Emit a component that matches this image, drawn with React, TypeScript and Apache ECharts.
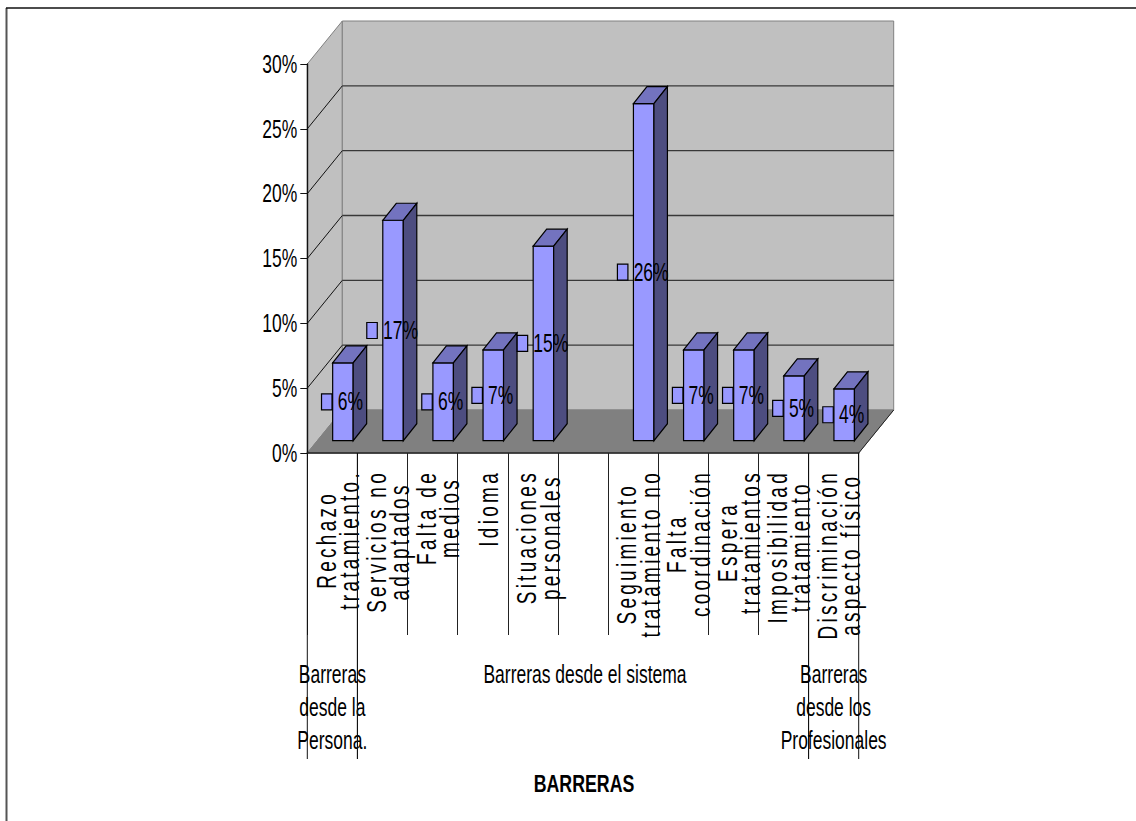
import React, { useEffect, useRef } from "react";
import * as echarts from "echarts";

// Barriers to treatment, share of responses per barrier
const categories = [
  "Rechazo\ntratamiento.",
  "Servicios no\nadaptados",
  "Falta de\nmedios",
  "Idioma",
  "Situaciones\npersonales",
  "",
  "Seguimiento\ntratamiento no",
  "Falta\ncoordinación",
  "Espera\ntratamientos",
  "Imposibilidad\ntratamiento",
  "Discriminación\naspecto físico",
];
const shares: (number | null)[] = [0.06, 0.17, 0.06, 0.07, 0.15, null, 0.26, 0.07, 0.07, 0.05, 0.04];
const shareLabels = ["6%", "17%", "6%", "7%", "15%", "", "26%", "7%", "7%", "5%", "4%"];
const yTicks = [0, 0.05, 0.1, 0.15, 0.2, 0.25, 0.3];
const yTickLabels = ["0%", "5%", "10%", "15%", "20%", "25%", "30%"];
const groupNames = ["Barreras\ndesde la\nPersona.", "Barreras desde el sistema", "Barreras\ndesde los\nProfesionales"];
const groupFirstSlot = [0, 1, 10];
const groupLastSlot = [0, 9, 10];
const axisTitle = "BARRERAS";

// Oblique projection of the chart box
const WALL_DX = 35;
const WALL_DY = -43;
const BAR_DX = 13.5;
const BAR_DY = -17;
const BAR_WIDTH = 20.5;
const BAR_SHIFT_X = 0.3;
const BAR_SHIFT_Y = -12.3;

const FONT_FAMILY = "Liberation Sans";
const SQUEEZE = 0.7;
const VALUE_FONT = `25px ${FONT_FAMILY}`;
const CATEGORY_SIZE = 28;
const CATEGORY_SQUEEZE = 0.68;
const CATEGORY_TRACKING = 4.8;
const CATEGORY_TOP = 17;
const CATEGORY_LINE = 23.5;

const measureCtx = document.createElement("canvas").getContext("2d")!;
function textWidth(text: string, font: string): number {
  measureCtx.font = font;
  return measureCtx.measureText(text).width;
}
function categoryLength(label: string): number {
  const font = `${CATEGORY_SIZE}px ${FONT_FAMILY}`;
  const longest = Math.max(0, ...label.split("\n").map((line) => textWidth(line, font) + line.length * CATEGORY_TRACKING));
  return longest * CATEGORY_SQUEEZE;
}

function poly(points: number[][], fill: string, stroke: string, lineWidth = 1) {
  return { type: "polygon", shape: { points }, style: { fill, stroke, lineWidth } };
}
function seg(x1: number, y1: number, x2: number, y2: number, stroke: string, lineWidth = 1) {
  return { type: "line", shape: { x1, y1, x2, y2 }, style: { stroke, lineWidth } };
}

export default function App() {
  const ref = useRef<HTMLDivElement>(null);

  useEffect(() => {
    document.body.style.margin = "0";
    const chart = echarts.init(ref.current!, undefined, { renderer: "svg" });

    const slotData = categories.map((_, i) => [i, shares[i]]);

    const renderBox = (params: any, api: any) => {
      const { x, y, width, height } = params.coordSys;
      const bottom = y + height;
      const children: any[] = [
        poly([[x, y], [x + WALL_DX, y + WALL_DY], [x + WALL_DX, bottom + WALL_DY], [x, bottom]], "#C0C0C0", "#808080"),
        poly(
          [[x + WALL_DX, y + WALL_DY], [x + width + WALL_DX, y + WALL_DY], [x + width + WALL_DX, bottom + WALL_DY], [x + WALL_DX, bottom + WALL_DY]],
          "#C0C0C0",
          "#808080"
        ),
        poly(
          [[x, bottom], [x + WALL_DX, bottom + WALL_DY], [x + width + WALL_DX, bottom + WALL_DY], [x + width, bottom]],
          "#808080",
          "#808080"
        ),
        seg(x + width, bottom, x + width + WALL_DX, bottom + WALL_DY, "#222"),
      ];
      yTicks.forEach((t, k) => {
        const py = api.coord([0, t])[1];
        if (k > 0 && k < yTicks.length - 1) {
          children.push(seg(x, py, x + WALL_DX, py + WALL_DY, "#111"));
          children.push(seg(x + WALL_DX, py + WALL_DY, x + width + WALL_DX, py + WALL_DY, "#383838", 1.3));
        }
        children.push({
          type: "text",
          x: x - 10,
          y: py,
          scaleX: SQUEEZE,
          style: { text: yTickLabels[k], font: VALUE_FONT, fill: "#000", align: "right", verticalAlign: "middle" },
        });
      });
      return { type: "group", children };
    };

    const renderBar = (_: any, api: any) => {
      const value = api.value(1);
      if (value == null || Number.isNaN(value)) return null;
      const slot = api.value(0);
      const [cx, topY] = api.coord([slot, value]);
      const [, baseY] = api.coord([slot, 0]);
      const left = cx + BAR_SHIFT_X;
      const right = left + BAR_WIDTH;
      const top = topY + BAR_SHIFT_Y;
      const base = baseY + BAR_SHIFT_Y;
      return {
        type: "group",
        children: [
          poly([[left, top], [right, top], [right, base], [left, base]], "#9999FF", "#000", 1.2),
          poly([[left, top], [left + BAR_DX, top + BAR_DY], [right + BAR_DX, top + BAR_DY], [right, top]], "#7373BF", "#000", 1.2),
          poly([[right, top], [right + BAR_DX, top + BAR_DY], [right + BAR_DX, base + BAR_DY], [right, base]], "#4D4D80", "#000", 1.2),
        ],
      };
    };

    // Legend key and value, centred together on the slot's bar
    const renderValueLabel = (_: any, api: any) => {
      const value = api.value(1);
      if (value == null || Number.isNaN(value)) return null;
      const slot = api.value(0);
      const [cx, topY] = api.coord([slot, value]);
      const [, baseY] = api.coord([slot, 0]);
      const textMid = cx + 18;
      const textLeft = textMid - (textWidth(shareLabels[slot], VALUE_FONT) * SQUEEZE) / 2;
      const mid = (topY + baseY) / 2 + BAR_SHIFT_Y;
      return {
        type: "group",
        children: [
          { type: "rect", shape: { x: textLeft - 16.2, y: mid - 8, width: 10.5, height: 16 }, style: { fill: "#9999FF", stroke: "#000", lineWidth: 1.2 } },
          {
            type: "text",
            x: textMid,
            y: mid,
            scaleX: SQUEEZE,
            style: { text: shareLabels[slot], font: VALUE_FONT, fill: "#000", align: "center", verticalAlign: "middle" },
          },
        ],
      };
    };

    const renderCategory = (params: any, api: any) => {
      const slot = api.value(0);
      const label = categories[slot];
      if (!label) return null;
      const { y, height } = params.coordSys;
      const [cx] = api.coord([slot, 0]);
      return {
        type: "text",
        x: cx + 5,
        y: y + height + CATEGORY_TOP + categoryLength(label) / 2,
        rotation: Math.PI / 2,
        scaleX: CATEGORY_SQUEEZE,
        style: {
          text: label,
          // letter-spacing rides along in the font shorthand written on the svg text
          font: `${CATEGORY_SIZE}px ${FONT_FAMILY};letter-spacing:${CATEGORY_TRACKING}px`,
          lineHeight: CATEGORY_LINE,
          fill: "#000",
          align: "center",
          verticalAlign: "middle",
        },
      };
    };

    const renderGroups = (params: any, api: any) => {
      const { y, height } = params.coordSys;
      const bottom = y + height;
      const half = api.size([1, 0])[0] / 2;
      const children: any[] = [];
      groupNames.forEach((name, g) => {
        const x0 = api.coord([groupFirstSlot[g], 0])[0] - half;
        const x1 = api.coord([groupLastSlot[g], 0])[0] + half;
        children.push(seg(x0, bottom, x0, bottom + 306, "#111"));
        children.push(seg(x1, bottom, x1, bottom + 306, "#111"));
        children.push({
          type: "text",
          x: (x0 + x1) / 2 + (g === 1 ? 2 : 0),
          y: bottom + 205,
          scaleX: SQUEEZE,
          style: { text: name, font: VALUE_FONT, lineHeight: 33, fill: "#000", align: "center", verticalAlign: "top" },
        });
      });
      const axisMid = (api.coord([0, 0])[0] - half + api.coord([10, 0])[0] + half) / 2;
      children.push({
        type: "text",
        x: axisMid + 1,
        y: bottom + 330,
        scaleX: 0.74,
        style: { text: axisTitle, font: `bold 24px ${FONT_FAMILY}`, fill: "#000", align: "center", verticalAlign: "middle" },
      });
      return { type: "group", children };
    };

    chart.setOption({
      animation: false,
      backgroundColor: "#FFFFFF",
      graphic: [
        { type: "line", shape: { x1: 6.5, y1: 8, x2: 6.5, y2: 821 }, style: { stroke: "#555", lineWidth: 2 } },
        { type: "line", shape: { x1: 6, y1: 8, x2: 1136, y2: 8 }, style: { stroke: "#111", lineWidth: 1.5 } },
      ],
      grid: { left: 307.3, top: 64, width: 551.4, height: 389 },
      xAxis: {
        type: "category",
        data: categories,
        z: 5,
        axisLine: { lineStyle: { color: "#222", width: 1.6 } },
        axisTick: { show: true, interval: 0, length: 182, lineStyle: { color: "#222", width: 1 } },
        axisLabel: { show: false },
        splitLine: { show: false },
      },
      yAxis: {
        type: "value",
        min: 0,
        max: 0.3,
        interval: 0.05,
        z: 5,
        axisLine: { show: true, lineStyle: { color: "#111", width: 1.4 } },
        axisTick: { show: true, length: 7, lineStyle: { color: "#111", width: 1 } },
        axisLabel: { show: false },
        splitLine: { show: false },
      },
      series: [
        { type: "custom", name: "caja", z: 1, data: [[0, 0]], renderItem: renderBox, silent: true },
        { type: "custom", name: "barreras", z: 6, data: slotData, renderItem: renderBar, encode: { x: 0, y: 1 } },
        { type: "custom", name: "etiquetas", z: 7, data: slotData, renderItem: renderValueLabel, encode: { x: 0, y: 1 }, silent: true },
        { type: "custom", name: "categorias", z: 7, data: slotData, renderItem: renderCategory, encode: { x: 0 }, silent: true },
        { type: "custom", name: "grupos", z: 7, data: [[0, 0]], renderItem: renderGroups, silent: true },
      ],
    });

    return () => chart.dispose();
  }, []);

  return <div ref={ref} style={{ position: "fixed", left: 0, top: 0, width: 1136, height: 821 }} />;
}
